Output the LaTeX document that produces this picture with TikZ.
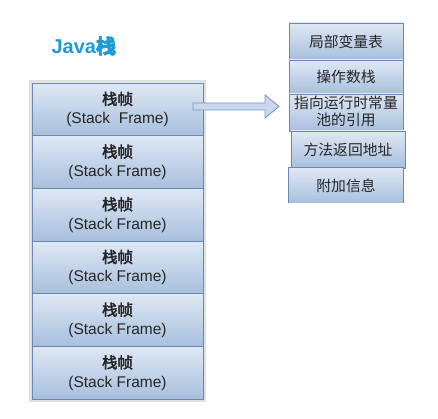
\documentclass[tikz,border=0pt]{standalone}
\usepackage{fontspec}
\setmainfont{Liberation Sans}
\newfontfamily\cjk{Noto Sans CJK SC}
\newfontfamily\cjkb[FakeBold=2.5]{Noto Sans CJK SC}
\definecolor{edge}{HTML}{6A88B2}
\definecolor{ftop}{HTML}{DFE8F4}
\definecolor{fbot}{HTML}{A7BFDD}
\definecolor{titleblue}{HTML}{1E9AD6}
\definecolor{arrowfill}{HTML}{C9D8EC}
\definecolor{arrowedge}{HTML}{7C99C2}
\tikzset{
  frame/.style={draw=edge, line width=0.9pt, top color=ftop, bottom color=fbot,
    minimum width=171pt, minimum height=52.7pt, inner sep=0pt, align=center,
    text=black!85, font=\fontsize{15.5}{19}\selectfont},
  part/.style={draw=edge, line width=0.9pt, top color=ftop, bottom color=fbot,
    minimum width=114pt, inner sep=0pt, align=center, text=black!85,
    font=\cjk\fontsize{14.8}{17}\selectfont},
}
\begin{document}
\begin{tikzpicture}[x=1pt,y=-1pt]
\useasboundingbox (0,0) rectangle (438,419);
% title
\node[text=titleblue, font=\bfseries\fontsize{20}{24}\selectfont, anchor=west] (title) at (48,46) {Java{\cjkb 栈}};
% outer light frame
\draw[black!12, line width=3pt] (30.5,81.5) rectangle (204.5,400.5);
% stack frames
\node[frame] (f1) at (117.5,109.35) {{\cjkb 栈帧}\\(Stack\ \ Frame)};
\node[frame] (f2) at (117.5,162.05) {{\cjkb 栈帧}\\(Stack Frame)};
\node[frame] (f3) at (117.5,214.75) {{\cjkb 栈帧}\\(Stack Frame)};
\node[frame] (f4) at (117.5,267.45) {{\cjkb 栈帧}\\(Stack Frame)};
\node[frame] (f5) at (117.5,320.15) {{\cjkb 栈帧}\\(Stack Frame)};
\node[frame] (f6) at (117.5,372.85) {{\cjkb 栈帧}\\(Stack Frame)};
% block arrow
\draw[arrowedge, line width=0.9pt, fill=arrowfill, line join=miter]
  (193,103) -- (265,103) -- (265,95) -- (279,106.5) -- (265,118) -- (265,110) -- (193,110) -- cycle;
% right stack
\node[part, minimum height=37pt] (p1) at (346,41.5) {局部变量表};
\node[part, minimum height=34pt] (p2) at (346,77) {操作数栈};
\node[part, minimum height=37pt] (p3) at (346,112.5) {};
\node[text=black!85, font=\cjk\fontsize{14.8}{17}\selectfont, align=center] (p3t) at (346,111.5) {指向运行时常量\\池的引用};
\node[part, minimum height=37pt] (p4) at (348,149.5) {方法返回地址};
\node[part, draw=none, minimum height=35pt] (p5) at (346,185.5) {附加信息};
\draw[edge, line width=0.9pt] (p5.south west) -- (p5.north west) -- (p5.north east) -- (p5.south east);
\end{tikzpicture}
\end{document}
